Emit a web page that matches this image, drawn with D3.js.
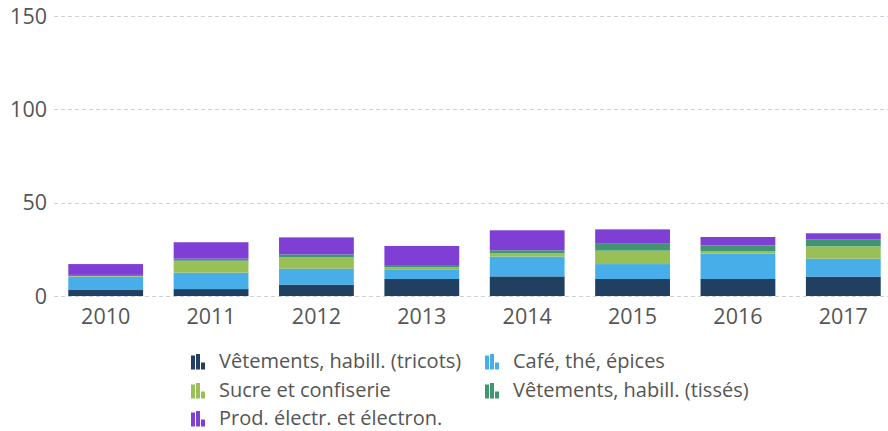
<!DOCTYPE html>
<head>
  <meta charset="utf-8">
  <script src="https://d3js.org/d3.v7.min.js"></script>
  <style>
    body { margin:0; background:#fff; }
    text { font-family: "Open Sans", sans-serif; fill: #555; }
    .tick-label { font-size: 21.5px; }
    .legend-label { font-size: 20px; }
  </style>
</head>
<body>
  <div class="chart"></div>
  <script>
    const years = ['2010', '2011', '2012', '2013', '2014', '2015', '2016', '2017'];
    const seriesNames = [
      'Vêtements, habill. (tricots)',
      'Café, thé, épices',
      'Sucre et confiserie',
      'Vêtements, habill. (tissés)',
      'Prod. électr. et électron.'
    ];
    const colors = ['#213f60', '#47aeea', '#99bf57', '#3f9670', '#7f3fd5'];
    const tricots  = [3.2, 3.7, 6.1, 9.1, 10.5, 9.1, 9.1, 10.4];
    const cafe     = [7.2, 8.8, 8.5, 5.2, 10.6, 8.0, 13.6, 9.6];
    const sucre    = [0.3, 6.4, 6.1, 1.2, 1.8, 7.2, 1.2, 6.6];
    const tisses   = [0.6, 1.1, 1.6, 1.1, 1.6, 3.7, 3.2, 3.8];
    const electr   = [5.8, 8.8, 9.1, 10.2, 10.7, 7.7, 4.5, 3.2];
    const yTicks = [0, 50, 100, 150];

    const width = 888, height = 431;
    const keys = ['tricots', 'cafe', 'sucre', 'tisses', 'electr'];
    const rows = years.map((y, i) => ({
      year: y, tricots: tricots[i], cafe: cafe[i], sucre: sucre[i], tisses: tisses[i], electr: electr[i]
    }));

    const svg = d3.select('.chart').append('svg')
      .attr('width', width)
      .attr('height', height);

    const x = d3.scaleBand()
      .domain(years)
      .range([53, 896])
      .paddingInner(0.29)
      .paddingOuter(0.145);

    const y = d3.scaleLinear()
      .domain([0, 150])
      .range([296, 16]);

    // grid lines
    svg.append('g')
      .selectAll('line')
      .data(yTicks)
      .join('line')
        .attr('x1', 54)
        .attr('x2', width)
        .attr('y1', d => Math.round(y(d)) + 0.5)
        .attr('y2', d => Math.round(y(d)) + 0.5)
        .attr('stroke', '#cbd2d9')
        .attr('stroke-dasharray', '4,3');

    svg.append('g')
      .selectAll('text')
      .data(yTicks)
      .join('text')
        .attr('class', 'tick-label')
        .attr('x', 47)
        .attr('y', d => y(d))
        .attr('dy', '0.36em')
        .attr('text-anchor', 'end')
        .text(d => d);

    const stacked = d3.stack().keys(keys)(rows);

    svg.append('g')
      .selectAll('g')
      .data(stacked)
      .join('g')
        .attr('fill', (d, i) => colors[i])
      .selectAll('rect')
      .data(d => d)
      .join('rect')
        .attr('x', d => x(d.data.year))
        .attr('width', x.bandwidth())
        .attr('y', d => y(d[1]))
        .attr('height', d => y(d[0]) - y(d[1]));

    // x axis labels
    svg.append('g')
      .selectAll('text')
      .data(years)
      .join('text')
        .attr('class', 'tick-label')
        .attr('x', d => x(d) + x.bandwidth() / 2)
        .attr('y', 316)
        .attr('dy', '0.36em')
        .attr('text-anchor', 'middle')
        .text(d => d);

    // legend
    const legendPos = [
      [191, 361], [485, 361],
      [191, 390], [485, 390],
      [191, 418]
    ];
    const legend = svg.append('g')
      .selectAll('g')
      .data(seriesNames)
      .join('g')
        .attr('transform', (d, i) => `translate(${legendPos[i][0]}, ${legendPos[i][1]})`);

    const iconBars = [[0, 14], [5, 15.5], [10, 7]];
    legend.each(function(d, i) {
      d3.select(this).selectAll('rect')
        .data(iconBars)
        .join('rect')
          .attr('x', b => b[0])
          .attr('y', b => 8.5 - b[1])
          .attr('width', 4)
          .attr('height', b => b[1])
          .attr('fill', colors[i]);
    });

    legend.append('text')
      .attr('class', 'legend-label')
      .attr('x', 28)
      .attr('y', 0)
      .attr('dy', '0.36em')
      .text(d => d);
  </script>
</body>
